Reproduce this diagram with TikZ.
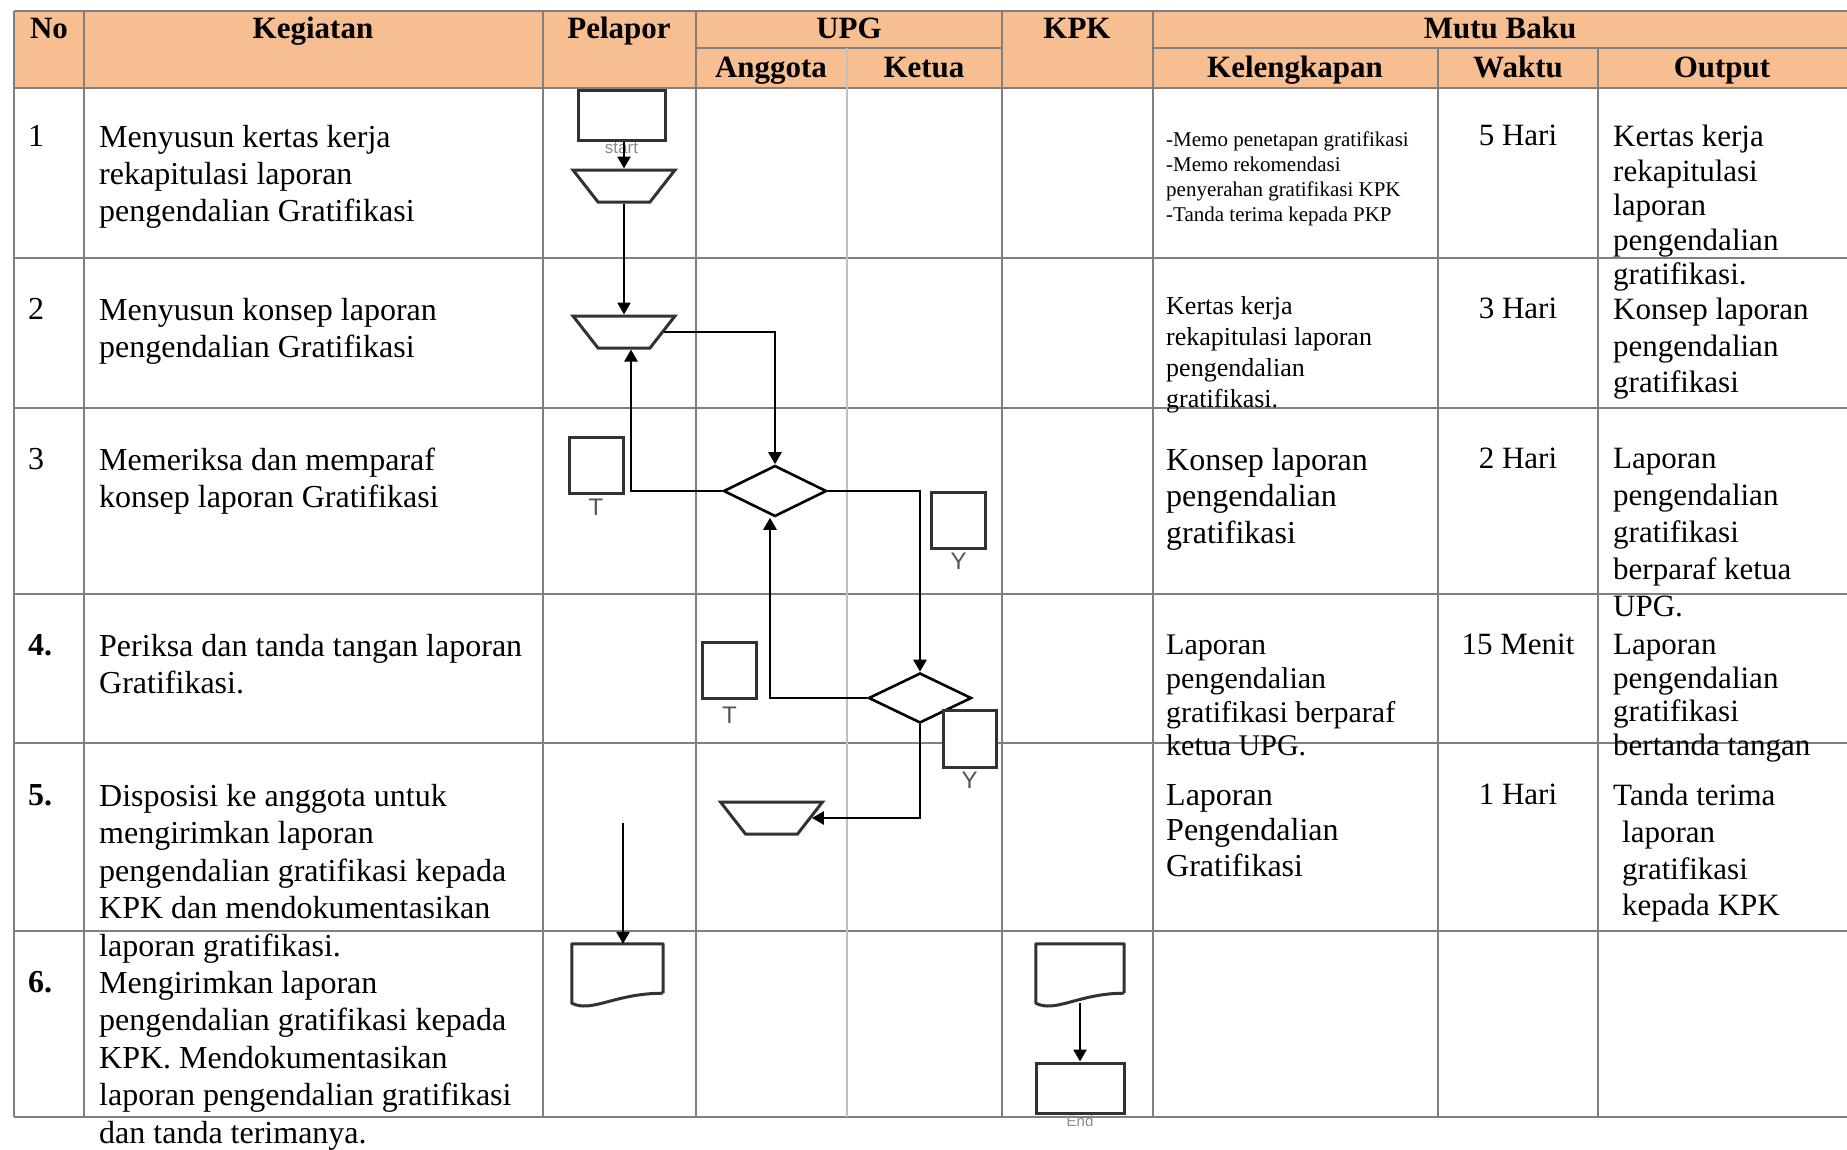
\documentclass[tikz,border=0pt]{standalone}
\usepackage{fontspec}
\setmainfont{Liberation Serif}
\newfontfamily\tagfont{Liberation Sans}
\usetikzlibrary{shapes.geometric,arrows.meta,positioning,calc}

\definecolor{headfill}{RGB}{247,191,145}
\definecolor{tablegray}{RGB}{128,128,128}
\definecolor{tablelight}{RGB}{192,192,192}
\definecolor{shapegray}{RGB}{50,50,50}
\definecolor{taggray}{RGB}{85,85,85}
\definecolor{softgray}{RGB}{140,140,140}

\tikzset{
  tabline/.style={draw=tablegray, line width=2.6pt},
  flow/.style={draw=black, line width=2.6pt, -{Triangle[length=12pt,width=13pt]}},
  termbox/.style={draw=shapegray, fill=white, line width=3pt, minimum width=87pt, minimum height=50pt, inner sep=0pt},
  manop/.style={trapezium, trapezium angle=52, shape border rotate=180, trapezium stretches body=true,
    draw=shapegray, fill=white, line width=3pt, minimum width=102pt, inner xsep=0pt, inner ysep=16pt},
  decision/.style={diamond, draw=black, fill=white, line width=2.6pt, minimum width=103pt, minimum height=51pt, inner sep=0pt},
  tagbox/.style={draw=shapegray, fill=white, line width=3pt, minimum width=54pt, minimum height=56pt, inner sep=0pt},
  tagtext/.style={font=\tagfont\fontsize{24}{24}\selectfont, text=taggray, inner sep=0pt},
  docbox/.style={minimum width=91pt, minimum height=59pt, inner sep=0pt},
  head/.style={anchor=base, inner sep=0pt, font=\bfseries\fontsize{31}{31}\selectfont},
  cell/.style={anchor=north west, inner sep=0pt, align=left, font=\fontsize{32}{37}\selectfont},
  waktu/.style={anchor=north, inner sep=0pt, font=\fontsize{31}{31}\selectfont},
  outcell/.style={cell, font=\fontsize{31}{36.5}\selectfont},
}

% outline of a document symbol round an empty node
\newcommand{\docoutline}[1]{%
  \draw[draw=shapegray, line width=3pt, line join=round]
    ($(#1.south east)+(0,-10)$) -- (#1.north east) -- (#1.north west) -- (#1.south west)
    .. controls ($(#1.south west)+(20,10)$) and ($(#1.south west)+(43,-10)$) .. ($(#1.south east)+(0,-10)$);}

\begin{document}
\begin{tikzpicture}[x=1pt, y=-1pt]
  \useasboundingbox (0,0) rectangle (1847,1149);
  % header band
  \fill[headfill] (14,11) rectangle (1847,88);
  % table rules
  \foreach \y in {11,88,258,408,594,743,931,1117}
    \draw[tabline] (14,\y) -- (1847,\y);
  \draw[tabline] (696,48) -- (1002,48);
  \draw[tabline] (1153,48) -- (1847,48);
  \foreach \x in {14,84,543,696,1002,1153}
    \draw[tabline] (\x,11) -- (\x,1117);
  \foreach \x in {1438,1598}
    \draw[tabline] (\x,48) -- (\x,1117);
  \draw[tabline, draw=tablelight] (847,48) -- (847,1117);

  % header texts
  \node[head] (hNo)   at (49,38)   {No};
  \node[head] (hKeg)  at (313,38)  {Kegiatan};
  \node[head] (hPel)  at (619,38)  {Pelapor};
  \node[head] (hUpg)  at (849,38)  {UPG};
  \node[head] (hKpk)  at (1077,38) {KPK};
  \node[head] (hMutu) at (1500,38) {Mutu Baku};
  \node[head] (hAng)  at (771,77)  {Anggota};
  \node[head] (hKet)  at (924,77)  {Ketua};
  \node[head] (hKel)  at (1295,77) {Kelengkapan};
  \node[head] (hWkt)  at (1518,77) {Waktu};
  \node[head] (hOut)  at (1722,77) {Output};

  % row 1
  \node[cell] (no1) at (28,125) {1};
  \node[cell] (keg1) at (99,125) {Menyusun kertas kerja\\rekapitulasi laporan\\pengendalian Gratifikasi};
  \node[cell, font=\fontsize{21}{25}\selectfont] (kel1) at (1166,132)
    {-Memo penetapan gratifikasi\\-Memo rekomendasi\\penyerahan gratifikasi KPK\\-Tanda terima kepada PKP};
  \node[waktu] (wkt1) at (1518,125) {5 Hari};
  \node[outcell, font=\fontsize{31}{34.5}\selectfont] (out1) at (1613,125)
    {Kertas kerja\\rekapitulasi\\laporan\\pengendalian\\gratifikasi.};
  % row 2
  \node[cell] (no2) at (28,298) {2};
  \node[cell] (keg2) at (99,298) {Menyusun konsep laporan\\pengendalian Gratifikasi};
  \node[cell, font=\fontsize{26}{31}\selectfont] (kel2) at (1166,296)
    {Kertas kerja\\rekapitulasi laporan\\pengendalian\\gratifikasi.};
  \node[waktu] (wkt2) at (1518,298) {3 Hari};
  \node[outcell] (out2) at (1613,298) {Konsep laporan\\pengendalian\\gratifikasi};
  % row 3
  \node[cell] (no3) at (28,448) {3};
  \node[cell] (keg3) at (99,448) {Memeriksa dan memparaf\\konsep laporan Gratifikasi};
  \node[cell, font=\fontsize{32}{36.5}\selectfont] (kel3) at (1166,448)
    {Konsep laporan\\pengendalian\\gratifikasi};
  \node[waktu] (wkt3) at (1518,448) {2 Hari};
  \node[outcell, font=\fontsize{31}{37}\selectfont] (out3) at (1613,448)
    {Laporan\\pengendalian\\gratifikasi\\berparaf ketua\\UPG.};
  % row 4
  \node[cell, font=\bfseries\fontsize{32}{37}\selectfont] (no4) at (28,634) {4.};
  \node[cell] (keg4) at (99,634) {Periksa dan tanda tangan laporan\\Gratifikasi.};
  \node[cell, font=\fontsize{30}{33.7}\selectfont] (kel4) at (1166,635)
    {Laporan\\pengendalian\\gratifikasi berparaf\\ketua UPG.};
  \node[waktu] (wkt4) at (1518,634) {15 Menit};
  \node[outcell, font=\fontsize{31}{33.7}\selectfont] (out4) at (1613,634)
    {Laporan\\pengendalian\\gratifikasi\\bertanda tangan};
  % row 5
  \node[cell, font=\bfseries\fontsize{32}{37}\selectfont] (no5) at (28,784) {5.};
  \node[cell, font=\fontsize{32}{37.4}\selectfont] (keg5) at (99,784)
    {Disposisi ke anggota untuk\\mengirimkan laporan\\pengendalian gratifikasi kepada\\KPK dan mendokumentasikan\\laporan gratifikasi.};
  \node[cell, font=\fontsize{32}{35.5}\selectfont] (kel5) at (1166,784)
    {Laporan\\Pengendalian\\Gratifikasi};
  \node[waktu] (wkt5) at (1518,784) {1 Hari};
  \node[outcell, font=\fontsize{31}{36.7}\selectfont] (out5) at (1613,784)
    {Tanda terima\\\hspace*{9pt}laporan\\\hspace*{9pt}gratifikasi\\\hspace*{9pt}kepada KPK};
  % row 6
  \node[cell, font=\bfseries\fontsize{32}{37}\selectfont] (no6) at (28,971) {6.};
  \node[cell, font=\fontsize{32}{37.4}\selectfont] (keg6) at (99,971)
    {Mengirimkan laporan\\pengendalian gratifikasi kepada\\KPK. Mendokumentasikan\\laporan pengendalian gratifikasi\\dan tanda terimanya.};

  % flow symbols
  \node[termbox] (start) at (621.5,115) {};
  \node[tagtext, font=\tagfont\fontsize{17}{17}\selectfont, text=softgray] (startlbl) [below=1pt of start] {start};
  \node[manop] (trapa) at (624,186) {};
  \node[manop] (trapb) at (624,332) {};
  \node[tagbox] (tbox1) at (596,465) {};
  \node[tagtext] (tlbl1) [below=4pt of tbox1] {T};
  \node[decision] (dia1) at (775,491) {};
  \node[tagbox] (ybox1) at (958.5,520) {};
  \node[tagtext] (ylbl1) [below=3pt of ybox1] {Y};
  \node[decision, minimum height=50pt] (dia2) at (920,698) {};
  \node[tagbox] (tbox2) at (729.5,670.5) {};
  \node[tagtext] (tlbl2) [below=7pt of tbox2] {T};
  \node[tagbox, minimum width=53pt, minimum height=57pt] (ybox2) at (969.5,738.5) {};
  \node[tagtext] (ylbl2) [below=3pt of ybox2] {Y};
  \node[manop] (trapc) at (771.5,818) {};
  \coordinate (dropb) at (623,823);
  \node[docbox] (docb) at (617.5,973.5) {};
  \docoutline{docb}
  \node[docbox, minimum width=88pt] (docc) at (1080,973.5) {};
  \docoutline{docc}
  \node[termbox, minimum width=88pt] (endbox) at (1080,1088) {};
  \node[tagtext, font=\tagfont\fontsize{15}{15}\selectfont, text=softgray] (endlbl) [below=1pt of endbox] {End};

  % connectors
  \draw[flow] (trapa.north |- start.south) -- (trapa.north);
  \draw[flow] (trapa.south) -- (trapb.north);
  \draw[flow] (trapb.east) -| (dia1.north);
  \draw[flow] (dia1.west) -| ([xshift=7pt]trapb.south);
  \draw[flow] (dia1.east) -| (dia2.north);
  \draw[flow] (dia2.west) -| ([xshift=-5pt]dia1.south);
  \draw[flow] (dia2.south) |- (trapc.east);
  \draw[flow] (dropb) -- (dropb |- docb.north);
  \draw[flow] (docc.south) -- (endbox.north);
\end{tikzpicture}
\end{document}
